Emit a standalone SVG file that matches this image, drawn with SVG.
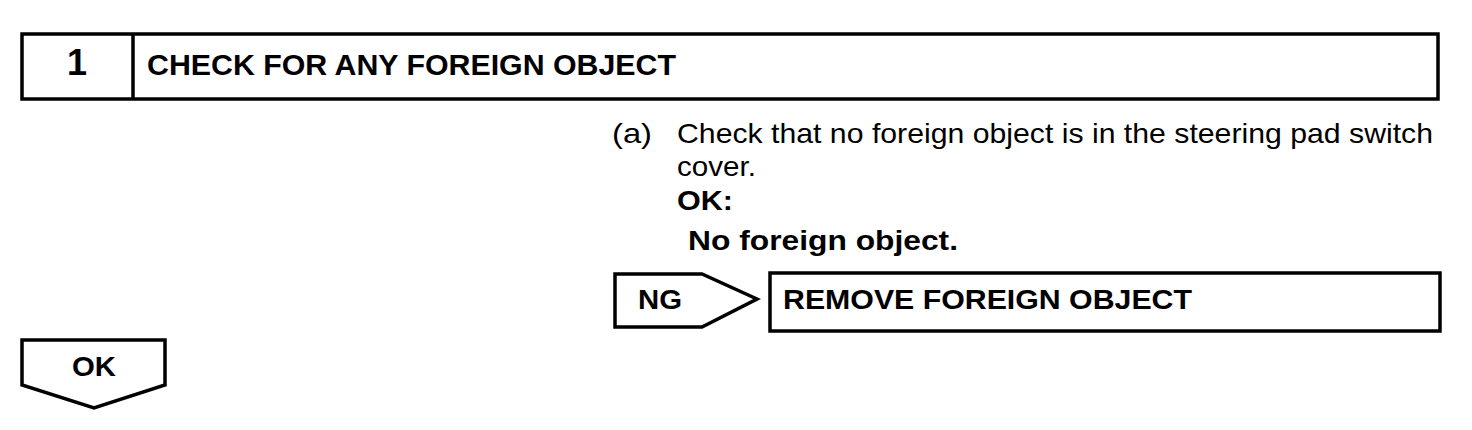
<svg xmlns="http://www.w3.org/2000/svg" width="1472" height="430" viewBox="0 0 1472 430">
<style>
.box{fill:#fff;stroke:#000;stroke-width:3.5}
.b{font-family:"Liberation Sans",Arial,sans-serif;font-weight:bold;fill:#000}
.n{font-family:"Liberation Sans",Arial,sans-serif;fill:#000}
</style>
<rect width="1472" height="430" fill="#fff"/>
<g id="header">
<rect class="box" x="22" y="34" width="1416" height="65"/>
<line x1="133" y1="34" x2="133" y2="99" stroke="#000" stroke-width="3.5"/>
<text class="b" x="77" y="75" font-size="36" text-anchor="middle">1</text>
<text class="b" x="147" y="75" font-size="29" textLength="529" lengthAdjust="spacingAndGlyphs">CHECK FOR ANY FOREIGN OBJECT</text>
</g>
<g id="instructions">
<text class="n" x="612" y="143" font-size="28" textLength="40" lengthAdjust="spacingAndGlyphs">(a)</text>
<text class="n" x="677" y="143" font-size="28" textLength="756" lengthAdjust="spacingAndGlyphs">Check that no foreign object is in the steering pad switch</text>
<text class="n" x="677" y="176" font-size="28" textLength="79" lengthAdjust="spacingAndGlyphs">cover.</text>
<text class="b" x="677" y="210" font-size="27" textLength="56" lengthAdjust="spacingAndGlyphs">OK:</text>
<text class="b" x="688" y="250" font-size="28" textLength="270" lengthAdjust="spacingAndGlyphs">No foreign object.</text>
</g>
<g id="ng">
<polygon class="box" points="615,274 702,274 757,299 702,327 615,327"/>
<text class="b" x="638" y="309" font-size="28" textLength="44" lengthAdjust="spacingAndGlyphs">NG</text>
</g>
<g id="remove">
<rect class="box" x="770" y="273" width="670" height="58"/>
<text class="b" x="783" y="309" font-size="28" textLength="409" lengthAdjust="spacingAndGlyphs">REMOVE FOREIGN OBJECT</text>
</g>
<g id="ok">
<polygon class="box" points="22,340 165,340 165,385 94,408 22,385"/>
<text class="b" x="94" y="376" font-size="27" text-anchor="middle" textLength="44" lengthAdjust="spacingAndGlyphs">OK</text>
</g>
<g id="connectors"></g>
</svg>
